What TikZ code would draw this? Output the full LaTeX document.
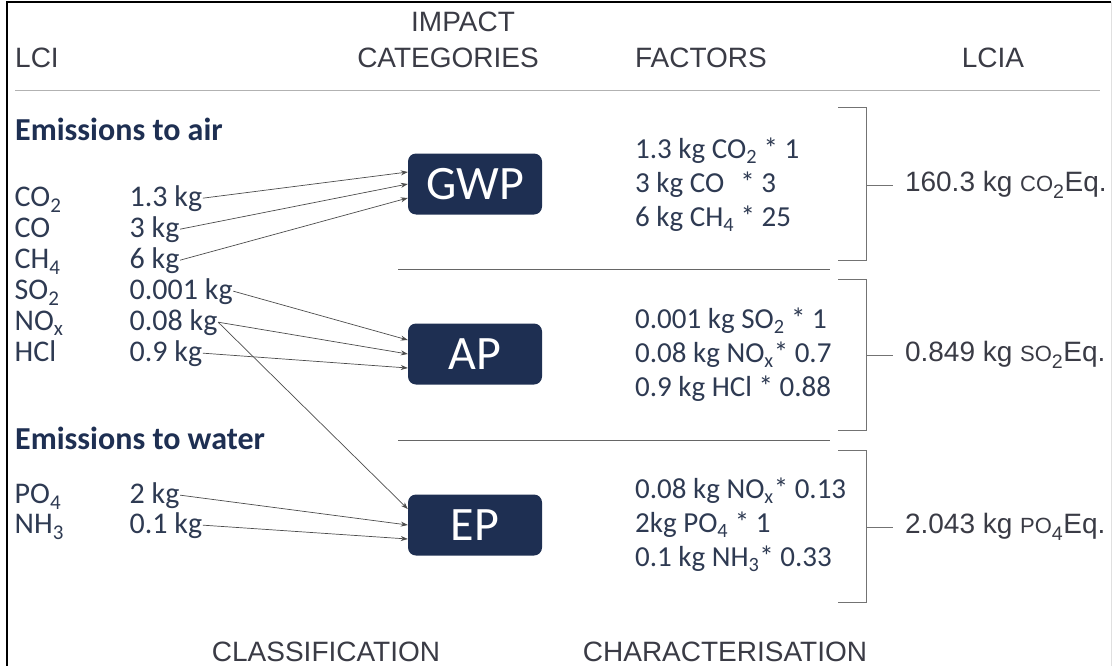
\documentclass[tikz,border=0pt]{standalone}
\usepackage{fontspec}
\setmainfont{Carlito}
\newfontfamily\arialfont{Liberation Sans}
\usetikzlibrary{arrows.meta,positioning}
\definecolor{navy}{HTML}{1E2F52}
\definecolor{inktext}{HTML}{2E3A52}
\definecolor{headgray}{HTML}{3A3B45}
\newcommand{\low}[1]{\raisebox{-0.1ex}{\textsubscript{#1}}}

\begin{document}
\begin{tikzpicture}[x=1pt,y=-1pt,
	head/.style={font=\arialfont\fontsize{28}{32}\selectfont,text=headgray,inner sep=0pt,anchor=base},
	sect/.style={font=\bfseries\fontsize{32}{36}\selectfont,text=navy,anchor=base west,inner sep=0pt},
	item/.style={font=\fontsize{30}{34}\selectfont,text=inktext,anchor=base west,inner sep=0.5pt},
	fac/.style={font=\fontsize{29}{32}\selectfont,text=inktext,anchor=base west,inner sep=0pt},
	cat/.style={fill=navy,text=white,rounded corners=8pt,minimum width=134pt,minimum height=61pt,font=\fontsize{48}{52}\selectfont,inner sep=0pt},
	res/.style={font=\arialfont\fontsize{28}{30}\selectfont,text=headgray,anchor=west,inner sep=0pt,outer xsep=12pt},
	flow/.style={-{Stealth[length=7pt,width=5pt]},draw=black!70,line width=0.7pt},
	rule/.style={draw=black!45,line width=1pt}]
	\useasboundingbox (0,0) rectangle (1113,666);
	% frame
	\draw[line width=1.6pt] (7,666) -- (7,2) -- (1111,2);
	\draw[black!12] (1111,2) -- (1111,666);
	%
	% headers
	\node[head,anchor=base west] (hLCI) at (15,68) {LCI};
	\node[head] (hImpact) at (463,32) {IMPACT};
	\node[head] (hCat) at (448,68) {CATEGORIES};
	\node[head] (hFac) at (701,68) {FACTORS};
	\node[head] (hLCIA) at (993,68) {LCIA};
	\draw[rule,black!30] (15,91) -- (1100,91);
	\node[head] (hClass) at (326,661) {CLASSIFICATION};
	\node[head] (hChar) at (725,661) {CHARACTERISATION};
	%
	% inventory
	\node[sect] (air) at (15,140) {Emissions to air};
	\node[item] (nCO2) at (14,206) {CO\low{2}};
	\node[item] (nCO) at (14,237) {CO};
	\node[item] (nCH4) at (14,268) {CH\low{4}};
	\node[item] (nSO2) at (14,299) {SO\low{2}};
	\node[item] (nNOx) at (14,330) {NO\low{x}};
	\node[item] (nHCl) at (14,361) {HCl};
	\node[item] (aCO2) at (129,206) {1.3 kg};
	\node[item] (aCO) at (129,237) {3 kg};
	\node[item] (aCH4) at (129,268) {6 kg};
	\node[item] (aSO2) at (129,299) {0.001 kg};
	\node[item] (aNOx) at (129,330) {0.08 kg};
	\node[item] (aHCl) at (129,361) {0.9 kg};
	\node[sect] (water) at (15,449) {Emissions to water};
	\node[item] (nPO4) at (14,503) {PO\low{4}};
	\node[item] (nNH3) at (14,533) {NH\low{3}};
	\node[item] (aPO4) at (129,503) {2 kg};
	\node[item] (aNH3) at (129,533) {0.1 kg};
	%
	% impact categories
	\node[cat] (gwp) at (475,184) {GWP};
	\node[cat] (ap) at (475,354) {AP};
	\node[cat] (ep) at (475,525) {EP};
	\draw[flow] (aCO2.east) -- ([yshift=12pt]gwp.west);
	\draw[flow] (aCO.east) -- (gwp.west);
	\draw[flow] (aCH4.east) -- ([yshift=-14pt]gwp.west);
	\draw[flow] (aSO2.east) -- ([yshift=14pt]ap.west);
	\draw[flow] (aNOx.east) -- (ap.west);
	\draw[flow] (aHCl.east) -- ([yshift=-14pt]ap.west);
	\draw[flow] (aNOx.east) -- ([yshift=16pt]ep.west);
	\draw[flow] (aPO4.east) -- (ep.west);
	\draw[flow] (aNH3.east) -- ([yshift=-14pt]ep.west);
	\draw[rule,black!60] (398,269) -- (830,269);
	\draw[rule,black!60] (398,440) -- (830,440);
	%
	% factors
	\node[fac] (fCO2) at (635,158) {1.3 kg CO\low{2} * 1};
	\node[fac] (fCO) at (635,192) {3 kg CO\hspace{16pt}* 3};
	\node[fac] (fCH4) at (635,226) {6 kg CH\low{4} * 25};
	\node[fac] (fSO2) at (635,328) {0.001 kg SO\low{2} * 1};
	\node[fac] (fNOx) at (635,362) {0.08 kg NO\low{x}* 0.7};
	\node[fac] (fHCl) at (635,396) {0.9 kg HCl * 0.88};
	\node[fac] (gNOx) at (635,498) {0.08 kg NO\low{x}* 0.13};
	\node[fac] (gPO4) at (635,532) {2kg PO\low{4} * 1};
	\node[fac] (gNH3) at (635,566) {0.1 kg NH\low{3}* 0.33};
	%
	% brackets and results
	\draw[rule,black!55] (838,108) -- (866,108) -- (866,260) -- (838,260);
	\draw[rule,black!55] (838,279) -- (866,279) -- (866,430) -- (838,430);
	\draw[rule,black!55] (838,450) -- (866,450) -- (866,602) -- (838,602);
	\coordinate (bGWP) at (866,185);
	\coordinate (bAP) at (866,355);
	\coordinate (bEP) at (866,527);
	\node[res] (rGWP) at (893,185) {160.3 kg {\fontsize{22}{26}\selectfont CO}\low{2}Eq.};
	\node[res] (rAP) at (893,355) {0.849 kg {\fontsize{22}{26}\selectfont SO}\low{2}Eq.};
	\node[res] (rEP) at (893,527) {2.043 kg {\fontsize{22}{26}\selectfont PO}\low{4}Eq.};
	\draw[rule,black!55] (bGWP) -- (rGWP.west);
	\draw[rule,black!55] (bAP) -- (rAP.west);
	\draw[rule,black!55] (bEP) -- (rEP.west);
\end{tikzpicture}
\end{document}
